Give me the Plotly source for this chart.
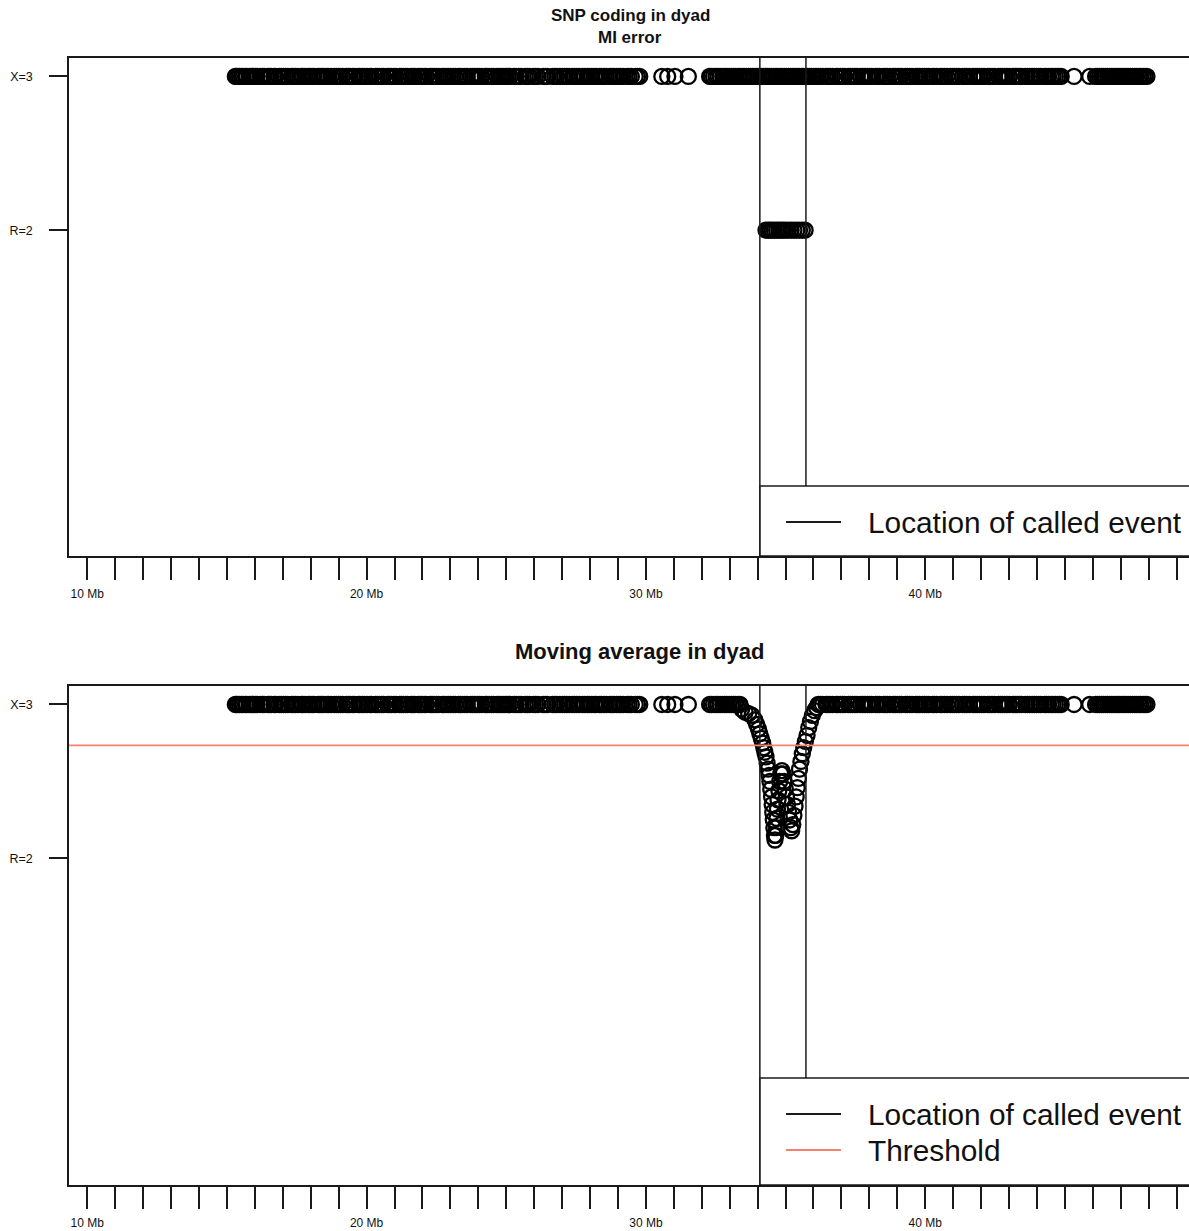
import plotly.graph_objects as go

# ---- data -------------------------------------------------------------
# SNP positions (Mb) coded X=3 in the dyad
snp_pos_x3 = [
    15.30, 15.34, 15.39, 15.45, 15.52, 15.58, 15.66, 15.71, 15.80, 15.87, 15.93,
    16.01, 16.08, 16.20, 16.27, 16.33, 16.46, 16.52, 16.58, 16.69, 16.75, 16.86, 16.94,
    17.02, 17.10, 17.18, 17.31, 17.37, 17.45, 17.53, 17.66, 17.72, 17.80, 17.91, 17.97,
    18.05, 18.12, 18.26, 18.33, 18.40, 18.47, 18.58, 18.64, 18.73, 18.85, 18.92,
    19.00, 19.06, 19.14, 19.27, 19.34, 19.41, 19.50, 19.57, 19.70, 19.76, 19.84, 19.93,
    20.02, 20.11, 20.18, 20.32, 20.38, 20.46, 20.55, 20.61, 20.74, 20.81, 20.88, 20.97,
    21.05, 21.18, 21.24, 21.31, 21.40, 21.47, 21.59, 21.66, 21.72, 21.84, 21.91, 21.98,
    22.06, 22.13, 22.27, 22.34, 22.41, 22.50, 22.58, 22.71, 22.77, 22.86, 22.93,
    23.01, 23.10, 23.17, 23.29, 23.35, 23.43, 23.52, 23.60, 23.73, 23.80, 23.87, 23.95,
    24.04, 24.12, 24.25, 24.31, 24.39, 24.48, 24.55, 24.67, 24.74, 24.82, 24.91, 24.98,
    25.07, 25.14, 25.28, 25.36, 25.45, 25.53, 25.68, 25.75, 25.83, 25.97,
    26.05, 26.13, 26.32, 26.40, 26.47, 26.66, 26.74, 26.81, 26.92,
    27.02, 27.09, 27.17, 27.26, 27.38, 27.45, 27.53, 27.62, 27.74, 27.81, 27.90, 27.97,
    28.06, 28.15, 28.22, 28.35, 28.41, 28.50, 28.58, 28.71, 28.79, 28.86, 28.95,
    29.03, 29.10, 29.19, 29.33, 29.40, 29.48, 29.62, 29.70, 29.78,
    30.57, 30.78, 31.04, 31.52,
    32.28, 32.34, 32.42, 32.51, 32.58, 32.66, 32.75, 32.83, 32.90, 32.98,
    33.06, 33.13, 33.21, 33.30, 33.37, 33.45, 33.52, 33.60, 33.68, 33.75, 33.83, 33.90, 33.98,
    34.05, 34.13, 34.20, 34.28, 34.35, 34.43, 34.50, 34.58, 34.66, 34.73, 34.81, 34.88, 34.96,
    35.03, 35.11, 35.18, 35.26, 35.33, 35.41, 35.48, 35.56, 35.63, 35.71, 35.78, 35.86, 35.93,
    36.01, 36.09, 36.17, 36.24, 36.32, 36.45, 36.52, 36.60, 36.68, 36.81, 36.88, 36.96,
    37.04, 37.12, 37.25, 37.32, 37.40, 37.49, 37.56, 37.69, 37.77, 37.84, 37.93,
    38.01, 38.09, 38.22, 38.29, 38.37, 38.50, 38.57, 38.65, 38.74, 38.86, 38.93,
    39.01, 39.09, 39.16, 39.30, 39.37, 39.45, 39.53, 39.66, 39.73, 39.80, 39.90, 39.97,
    40.05, 40.13, 40.26, 40.33, 40.41, 40.54, 40.61, 40.69, 40.78, 40.90, 40.97,
    41.05, 41.13, 41.21, 41.34, 41.42, 41.49, 41.58, 41.71, 41.78, 41.86, 41.95,
    42.03, 42.11, 42.24, 42.31, 42.39, 42.48, 42.62, 42.69, 42.76, 42.85, 42.93,
    43.01, 43.14, 43.21, 43.29, 43.38, 43.46, 43.59, 43.66, 43.74, 43.83, 43.91, 43.98,
    44.06, 44.14, 44.27, 44.34, 44.42, 44.51, 44.58, 44.66, 44.74, 44.81, 44.87,
    45.33, 45.89, 46.10,
    46.17, 46.24, 46.31, 46.38, 46.46, 46.53, 46.60, 46.68, 46.75, 46.83, 46.90, 46.97,
    47.05, 47.12, 47.20, 47.27, 47.35, 47.42, 47.50, 47.57, 47.65, 47.72, 47.80, 47.87, 47.94,
]

# SNP positions (Mb) coded R=2 (MI error block)
snp_pos_r2 = [
    34.30, 34.38, 34.45, 34.52, 34.60, 34.68, 34.76, 34.84, 34.92,
    35.00, 35.10, 35.20, 35.30, 35.40, 35.50, 35.60, 35.70,
]

# Moving average through the called event (position Mb, value)
dip_pos = [
    33.43, 33.55, 33.68, 33.80, 33.90, 33.97, 34.03, 34.08, 34.13, 34.18,
    34.22, 34.26, 34.30, 34.34, 34.38, 34.41, 34.44, 34.47, 34.50, 34.52,
    34.54, 34.56, 34.58, 34.60, 34.62, 34.65, 34.67, 34.69, 34.71, 34.73,
    34.76, 34.79, 34.83, 34.87, 34.91, 34.95, 34.99, 35.03, 35.07, 35.11,
    35.15, 35.19, 35.22, 35.26, 35.30, 35.34, 35.38, 35.42, 35.46, 35.50,
    35.55, 35.60, 35.65, 35.71, 35.77, 35.83, 35.89, 35.96, 36.04, 36.11,
    36.17,
]
dip_val = [
    2.97, 2.95, 2.94, 2.93, 2.90, 2.87, 2.84, 2.81, 2.78, 2.75,
    2.72, 2.69, 2.66, 2.62, 2.58, 2.54, 2.50, 2.45, 2.40, 2.35,
    2.30, 2.25, 2.20, 2.15, 2.12, 2.15, 2.20, 2.26, 2.32, 2.38,
    2.44, 2.50, 2.55, 2.57, 2.55, 2.50, 2.45, 2.40, 2.35, 2.30,
    2.25, 2.20, 2.18, 2.22, 2.28, 2.34, 2.40, 2.46, 2.52, 2.58,
    2.63, 2.68, 2.72, 2.76, 2.80, 2.85, 2.89, 2.93, 2.96, 2.98,
    3.00,
]

event_start, event_end = 34.08, 35.73   # called event (Mb)
threshold = 2.735

code_vals = [3, 2]
code_text = ["X=3", "R=2"]
mb_ticks = list(range(10, 50))
mb_labels = [f"{t} Mb" if t % 10 == 0 else "" for t in mb_ticks]

# ---- layout helpers (pixel -> paper) ----------------------------------
W, H = 1189, 1231
def px(x):
    return x / W
def py(y):
    return 1 - y / H

FONT = "Liberation Sans, Arial, Helvetica, sans-serif"
LINE = "#1a1a1a"
THRESH_COLOR = "#f4826f"

# flat part of the moving average outside the event window
flat_pos = [p for p in snp_pos_x3 if p < dip_pos[0] or p > dip_pos[-1]]
flat_val = [3 for _ in flat_pos]

marker = dict(symbol="circle-open", size=15, color="black", line=dict(width=2.3, color="black"))

fig = go.Figure()
fig.add_trace(go.Scatter(x=snp_pos_x3, y=[3] * len(snp_pos_x3), mode="markers",
                         marker=marker, xaxis="x", yaxis="y", showlegend=False))
fig.add_trace(go.Scatter(x=snp_pos_r2, y=[2] * len(snp_pos_r2), mode="markers",
                         marker=marker, xaxis="x", yaxis="y", showlegend=False))
fig.add_trace(go.Scatter(x=flat_pos + dip_pos, y=flat_val + dip_val, mode="markers",
                         marker=marker, xaxis="x2", yaxis="y2", showlegend=False))

xr = [9.345, 49.445]
yr = [-0.12, 3.12]

xaxis_common = dict(
    range=xr, domain=[px(69), 1], showgrid=False, zeroline=False,
    showline=True, mirror=True, linecolor=LINE, linewidth=1.5,
    ticks="outside", ticklen=22, tickwidth=1.5, tickcolor=LINE,
    tickvals=mb_ticks, ticktext=mb_labels, ticklabelstandoff=4,
    tickfont=dict(family=FONT, size=12, color="#111"),
)
yaxis_common = dict(
    range=yr, showgrid=False, zeroline=False,
    showline=True, mirror=False, linecolor=LINE, linewidth=1.5,
    ticks="outside", ticklen=18, tickwidth=1.5, tickcolor=LINE,
    tickvals=code_vals, ticktext=code_text, ticklabelstandoff=14,
    tickfont=dict(family=FONT, size=12.5, color="#111"),
)

fig.update_layout(
    width=W, height=H, autosize=False,
    margin=dict(l=0, r=0, t=0, b=0, pad=0),
    paper_bgcolor="white", plot_bgcolor="white",
    hovermode=False,
    xaxis=dict(**xaxis_common, anchor="y"),
    yaxis=dict(**yaxis_common, domain=[py(556), py(58)], anchor="x"),
    xaxis2=dict(**xaxis_common, anchor="y2"),
    yaxis2=dict(**yaxis_common, domain=[py(1185), py(686)], anchor="x2"),
)

shapes = []
# called event boundaries in both panels
for xa, ya in (("x", "y domain"), ("x2", "y2 domain")):
    for xv in (event_start, event_end):
        shapes.append(dict(type="line", xref=xa, yref=ya, x0=xv, x1=xv, y0=0, y1=1,
                           line=dict(color=LINE, width=1.5), layer="above"))
# threshold in the moving-average panel
shapes.append(dict(type="line", xref="x2 domain", yref="y2", x0=0, x1=1,
                   y0=threshold, y1=threshold, line=dict(color=THRESH_COLOR, width=1.8),
                   layer="above"))

# legend boxes (bottom-right of each panel)
def legend_box(top_px, bottom_px):
    shapes.append(dict(type="rect", xref="paper", yref="paper",
                       x0=px(760), x1=1.02, y0=py(bottom_px), y1=py(top_px),
                       fillcolor="white", line=dict(color=LINE, width=1.5), layer="above"))

def legend_entry(y_px, color, text):
    shapes.append(dict(type="line", xref="paper", yref="paper",
                       x0=px(786), x1=px(841), y0=py(y_px), y1=py(y_px),
                       line=dict(color=color, width=1.8), layer="above"))
    fig.add_annotation(xref="paper", yref="paper", x=px(866), y=py(y_px),
                       xanchor="left", yanchor="middle", showarrow=False, text=text,
                       font=dict(family=FONT, size=29.8, color="#111"))

legend_box(486, 556)
legend_box(1078, 1185)
legend_entry(522, LINE, "Location of called event")
legend_entry(1114, LINE, "Location of called event")
legend_entry(1150, THRESH_COLOR, "Threshold")
fig.update_layout(shapes=shapes)

# panel titles
fig.add_annotation(xref="paper", yref="paper", x=px(630), y=py(16), showarrow=False,
                   xanchor="center", yanchor="middle", text="<b>SNP coding in dyad</b>",
                   font=dict(family=FONT, size=17, color="#111"))
fig.add_annotation(xref="paper", yref="paper", x=px(630), y=py(37), showarrow=False,
                   xanchor="center", yanchor="middle", text="<b>MI error</b>",
                   font=dict(family=FONT, size=17, color="#111"))
fig.add_annotation(xref="paper", yref="paper", x=px(639), y=py(652), showarrow=False,
                   xanchor="center", yanchor="middle", text="<b>Moving average in dyad</b>",
                   font=dict(family=FONT, size=22, color="#111"))

fig.write_html("out.html", config={"displayModeBar": False})
